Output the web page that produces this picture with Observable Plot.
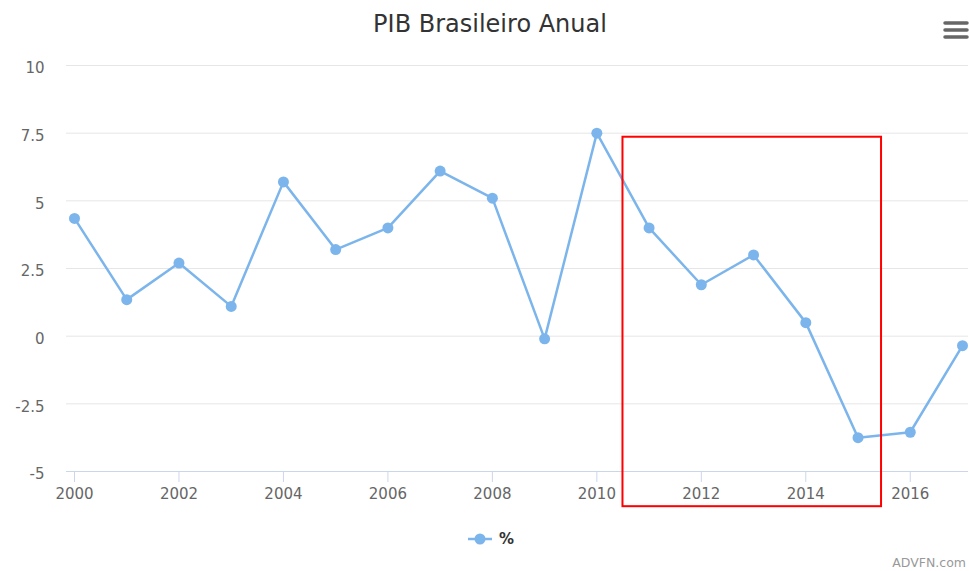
<!DOCTYPE html>
<html>
<head>
<meta charset="utf-8">
<script src="https://cdn.jsdelivr.net/npm/d3@7"></script>
<script src="https://cdn.jsdelivr.net/npm/@observablehq/plot@0.6"></script>
<style>
  html, body { margin: 0; padding: 0; background: #fff; }
  #wrap { position: relative; width: 969px; height: 571px; overflow: hidden; font-family: "DejaVu Sans", sans-serif; }
  #title { position: absolute; left: 0; width: 980px; top: 10px; text-align: center; font-size: 24px; color: #333; }
  #legend { position: absolute; left: 466px; top: 528px; height: 22px; display: flex; align-items: center; font-size: 15px; font-weight: bold; color: #333; }
  #credit { position: absolute; right: 3px; top: 555px; font-size: 12.5px; color: #999; white-space: nowrap; }
  #menu { position: absolute; left: 943px; top: 20px; }
  #chart { position: absolute; left: 0; top: 0; }
</style>
</head>
<body>
<div id="wrap">
  <div id="chart"></div>
  <div id="title">PIB Brasileiro Anual</div>
  <div id="legend"><svg width="28" height="14"><line x1="2" x2="26" y1="7" y2="7" stroke="#7cb5ec" stroke-width="2.5"/><circle cx="14" cy="7" r="5.5" fill="#7cb5ec"/></svg><span style="margin-left:5px">%</span></div>
  <div id="credit">ADVFN.com</div>
  <svg id="menu" width="26" height="20"><g stroke="#666" stroke-width="3.5" stroke-linecap="round"><line x1="2" x2="24" y1="3" y2="3"/><line x1="2" x2="24" y1="10" y2="10"/><line x1="2" x2="24" y1="17" y2="17"/></g></svg>
</div>
<script>
const years = [2000, 2001, 2002, 2003, 2004, 2005, 2006, 2007, 2008, 2009, 2010, 2011, 2012, 2013, 2014, 2015, 2016, 2017];
const values = [4.35, 1.35, 2.7, 1.1, 5.7, 3.2, 4.0, 6.1, 5.1, -0.1, 7.5, 4.0, 1.9, 3.0, 0.5, -3.75, -3.55, -0.35];
const xTicks = [2000, 2002, 2004, 2006, 2008, 2010, 2012, 2014, 2016];
const yTicks = [-5, -2.5, 0, 2.5, 5, 7.5, 10];
const highlightX = [2010.5, 2015.45];
const highlightY = [7.35, -6.3];

const data = years.map((year, i) => ({year, value: values[i]}));
const box = [{x1: highlightX[0], x2: highlightX[1], y1: highlightY[0], y2: highlightY[1]}];

const chart = Plot.plot({
  width: 969,
  height: 571,
  marginTop: 65,
  marginBottom: 100,
  marginLeft: 66,
  marginRight: 1,
  style: {fontFamily: "DejaVu Sans, sans-serif", fontSize: "15px", color: "#666", background: "transparent", overflow: "visible"},
  x: {domain: [2000, 2017], insetLeft: 8, insetRight: 6},
  y: {domain: [-5, 10]},
  marks: [
    Plot.gridY(yTicks, {stroke: "#e6e6e6", strokeOpacity: 1}),
    Plot.axisY(yTicks, {tickSize: 0, tickPadding: 22, tickFormat: d => String(d), label: null, dy: 3, fill: "#666"}),
    Plot.ruleY([-5], {stroke: "#ccd6eb"}),
    Plot.axisX(xTicks, {tickSize: 11, tickPadding: 6, tickFormat: d => String(d), label: null, stroke: "#ccd6eb", fill: "#666"}),
    Plot.line(data, {x: "year", y: "value", stroke: "#7cb5ec", strokeWidth: 2.5}),
    Plot.dot(data, {x: "year", y: "value", r: 5.5, fill: "#7cb5ec"}),
    Plot.rect(box, {x1: "x1", x2: "x2", y1: "y1", y2: "y2", fill: "none", stroke: "#ff0000", strokeWidth: 2, clip: false})
  ]
});
document.getElementById("chart").appendChild(chart);
</script>
</body>
</html>
